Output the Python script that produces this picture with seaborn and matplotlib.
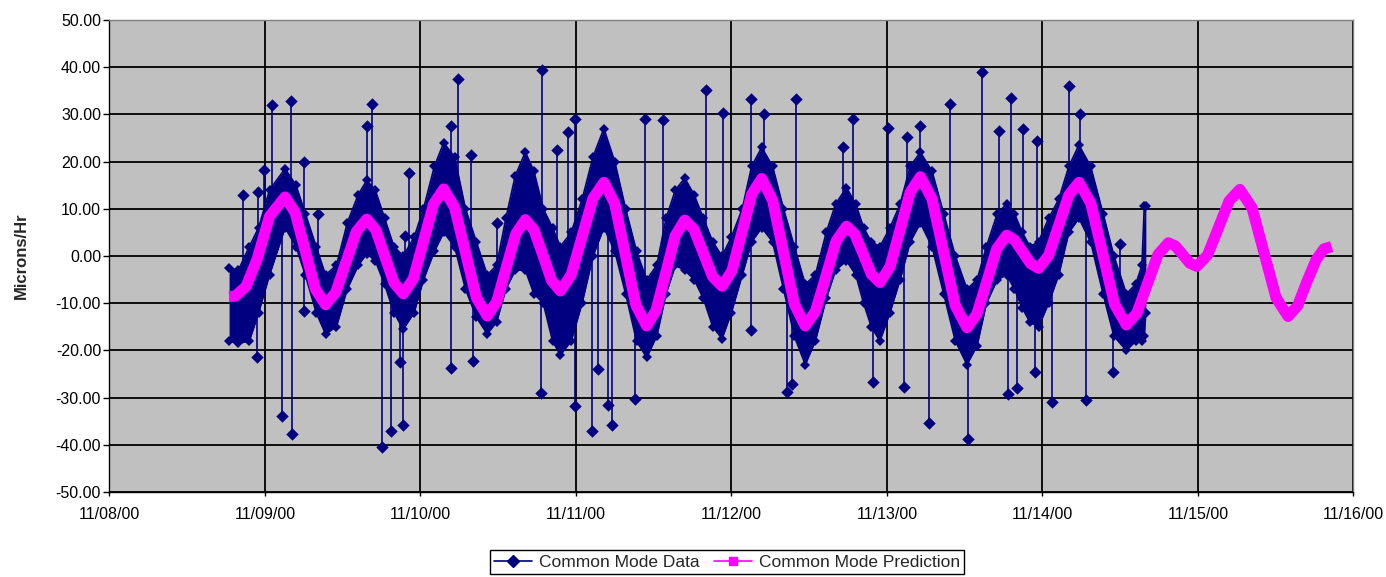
import numpy as np
import pandas as pd
import matplotlib
matplotlib.use("Agg")
import matplotlib.pyplot as plt
import matplotlib.dates as mdates
import matplotlib.ticker as mticker
from matplotlib.lines import Line2D
import seaborn as sns

start = pd.Timestamp("2000-11-08")

# prediction curve (days after 11/08/00, microns/hr)
pred_days = [0.77, 0.81, 0.88, 0.95, 1.03, 1.13, 1.195, 1.26, 1.325, 1.39,
             1.456, 1.522, 1.589, 1.655, 1.714, 1.772, 1.831, 1.89, 1.955, 2.02,
             2.085, 2.15, 2.22, 2.29, 2.36, 2.43, 2.491, 2.552, 2.614, 2.675,
             2.731, 2.788, 2.844, 2.90, 2.97, 3.04, 3.11, 3.18, 3.249, 3.318,
             3.386, 3.455, 3.516, 3.578, 3.639, 3.70, 3.76, 3.82, 3.88, 3.94,
             4.004, 4.068, 4.131, 4.195, 4.265, 4.335, 4.405, 4.475, 4.541, 4.608,
             4.674, 4.74, 4.794, 4.848, 4.901, 4.955, 5.02, 5.085, 5.15, 5.215,
             5.29, 5.365, 5.44, 5.515, 5.579, 5.643, 5.706, 5.77, 5.821, 5.873,
             5.924, 5.975, 6.04, 6.105, 6.17, 6.235, 6.311, 6.388, 6.464, 6.54,
             6.608, 6.675, 6.743, 6.81, 6.856, 6.902, 6.947, 6.993, 7.062, 7.132,
             7.201, 7.27, 7.348, 7.425, 7.503, 7.58, 7.64, 7.70, 7.76, 7.81, 7.86]
pred_vals = [-8.6, -8.5, -6.4, -0.7, 8.4, 12.5, 9.2, 1.1, -7.0, -10.3,
             -7.7, -1.3, 5.2, 7.8, 5.5, -0.1, -5.7, -8.0, -4.8, 3.1,
             11.0, 14.2, 10.3, 0.8, -8.8, -12.7, -9.7, -2.5, 4.7, 7.7,
             5.5, 0.2, -5.2, -7.4, -4.0, 4.1, 12.2, 15.6, 11.2, 0.4,
             -10.4, -14.8, -11.5, -3.6, 4.3, 7.6, 5.6, 0.6, -4.4, -6.4,
             -3.1, 5.0, 13.1, 16.4, 11.8, 0.8, -10.2, -14.8, -11.7, -4.3,
             3.2, 6.3, 4.6, 0.4, -3.9, -5.6, -2.3, 5.6, 13.5, 16.8,
             12.1, 0.8, -10.5, -15.2, -12.3, -5.4, 1.5, 4.4, 3.4, 0.9,
             -1.6, -2.6, 0.1, 6.5, 12.9, 15.6, 11.2, 0.5, -10.2, -14.6,
             -12.1, -5.9, 0.3, 2.8, 2.1, 0.3, -1.5, -2.2, 0.2, 6.0,
             11.7, 14.1, 10.2, 0.7, -8.9, -12.8, -10.6, -5.5, -0.8, 1.5, 2.0]

# dense part of the measured data: upper / lower edge
band_days = [0.77, 0.83, 0.90, 0.96, 1.03, 1.13, 1.20, 1.26, 1.33, 1.39,
             1.46, 1.53, 1.60, 1.655, 1.71, 1.77, 1.83, 1.89, 1.96, 2.02,
             2.09, 2.15, 2.22, 2.29, 2.36, 2.43, 2.49, 2.55, 2.61, 2.675,
             2.73, 2.79, 2.85, 2.90, 2.97, 3.04, 3.11, 3.18, 3.25, 3.32,
             3.39, 3.455, 3.52, 3.58, 3.64, 3.70, 3.76, 3.82, 3.88, 3.94,
             4.00, 4.07, 4.13, 4.195, 4.265, 4.335, 4.405, 4.475, 4.54, 4.61,
             4.67, 4.74, 4.80, 4.85, 4.90, 4.955, 5.02, 5.085, 5.15, 5.215,
             5.29, 5.365, 5.44, 5.515, 5.58, 5.64, 5.71, 5.77, 5.82, 5.87,
             5.92, 5.975, 6.04, 6.105, 6.17, 6.235, 6.31, 6.39, 6.46, 6.54,
             6.60, 6.64, 6.655, 6.665]
band_hi = [-2.5, -3.0, 2.0, 6.0, 14.0, 18.5, 15.0, 9.0, 2.0, -4.0,
           -2.0, 7.0, 13.0, 16.0, 14.0, 8.0, 2.0, 0.0, 4.0, 10.0,
           19.0, 24.0, 21.0, 10.0, 3.0, -4.0, -2.0, 8.0, 17.0, 22.0,
           18.0, 10.0, 6.0, 2.0, 5.0, 12.0, 21.0, 27.0, 20.0, 10.0,
           1.0, -5.0, -2.0, 8.0, 14.0, 16.5, 13.0, 8.0, 3.0, 0.0,
           4.0, 10.0, 19.0, 23.0, 19.0, 10.0, 2.0, -6.0, -4.0, 5.0,
           11.0, 14.5, 11.0, 6.0, 3.0, 2.0, 6.0, 11.0, 19.0, 22.0,
           18.0, 9.0, 0.0, -7.0, -5.0, 2.0, 9.0, 11.0, 9.0, 5.0,
           2.0, 3.0, 8.0, 12.0, 19.0, 23.5, 19.0, 9.0, 0.0, -8.0,
           -6.0, -2.0, 10.5, 10.5]
band_lo = [-18.0, -18.5, -18.0, -12.0, -4.0, 6.0, 2.0, -4.0, -12.0, -16.5,
           -15.0, -7.0, -2.0, 0.5, -1.0, -6.0, -12.0, -15.5, -12.0, -5.0,
           1.0, 5.0, 2.0, -7.0, -13.0, -16.5, -14.0, -7.0, -3.0, -3.0,
           -8.0, -10.0, -18.0, -21.0, -18.0, -10.0, 0.0, 6.0, 1.0, -8.0,
           -18.0, -21.5, -17.0, -8.0, -2.0, -3.0, -5.0, -9.0, -15.0, -17.5,
           -12.0, -4.0, 3.0, 6.0, 3.0, -7.0, -17.0, -23.0, -18.0, -9.0,
           -3.0, -1.0, -4.0, -10.0, -15.0, -18.0, -12.0, -5.0, 3.0, 7.0,
           2.0, -8.0, -18.0, -23.0, -19.0, -10.0, -5.0, -4.0, -7.0, -11.0,
           -14.0, -15.0, -10.0, -4.0, 5.0, 8.0, 3.0, -8.0, -17.0, -20.0,
           -18.0, -18.0, -17.0, -12.0]

# outlying measurements
spike_days = [0.862, 0.958, 0.995, 1.044, 1.168, 1.254, 1.34, 1.655, 1.687, 1.90,
              1.925, 2.20, 2.245, 2.326, 2.49, 2.78, 2.877, 2.948, 2.995, 3.445,
              3.559, 3.837, 3.945, 4.125, 4.21, 4.416, 4.716, 4.785, 5.006, 5.132,
              5.213, 5.406, 5.614, 5.722, 5.799, 5.874, 5.964, 6.172, 6.243, 6.50,
              0.947, 1.109, 1.172, 1.25, 1.752, 1.81, 1.887, 1.87, 2.197, 2.34,
              2.776, 2.995, 3.106, 3.14, 3.205, 3.235, 3.381, 4.125, 4.36, 4.39,
              4.91, 5.113, 5.273, 5.52, 5.777, 5.835, 5.95, 6.06, 6.279, 6.457]
spike_vals = [13.0, 13.6, 18.2, 31.9, 32.8, 19.9, 8.9, 27.6, 32.2, 4.2,
              17.5, 27.5, 37.5, 21.5, 7.0, 39.5, 22.4, 26.2, 29.1, 29.1,
              28.8, 35.1, 30.3, 33.2, 30.0, 33.2, 23.1, 29.1, 27.2, 25.2,
              27.5, 32.2, 38.9, 26.4, 33.5, 26.9, 24.3, 36.0, 30.0, 2.5,
              -21.4, -33.8, -37.8, -11.7, -40.4, -37.0, -35.9, -22.5, -23.7, -22.3,
              -29.1, -31.7, -37.0, -24.0, -31.5, -35.9, -30.3, -15.6, -28.8, -27.2,
              -26.7, -27.8, -35.3, -38.7, -29.3, -27.9, -24.6, -31.0, -30.6, -24.6]


def to_time(days):
    return start + pd.to_timedelta(np.asarray(days), unit="D")


pred = pd.DataFrame({"time": to_time(pred_days), "value": pred_vals})
band = pd.DataFrame({"time": to_time(band_days), "hi": band_hi, "lo": band_lo})
spikes = pd.DataFrame({"time": to_time(spike_days), "value": spike_vals})
# spike lines start from inside the dense band
spikes["base"] = np.interp(spike_days, pred_days, pred_vals)

sns.set_theme(style="ticks", rc={"axes.facecolor": "#c0c0c0",
                                 "figure.facecolor": "white"})
plt.rcParams["font.family"] = ["Liberation Sans", "DejaVu Sans"]
plt.rcParams["axes.unicode_minus"] = False

navy = "#000080"
magenta = "#ff00ff"

fig = plt.figure(figsize=(13.86, 5.77), dpi=100)
ax = fig.add_axes([0.0789, 0.1473, 0.8976, 0.8180])

ax.fill_between(band["time"], band["lo"], band["hi"], color=navy, lw=0, zorder=2)
for col in ["hi", "lo"]:
    sns.lineplot(data=band, x="time", y=col, ax=ax, color=navy, lw=1.2,
                 marker="D", markersize=5, markeredgewidth=0, zorder=2)
ax.vlines(spikes["time"], spikes["base"], spikes["value"], color=navy, lw=1.2, zorder=2)
sns.scatterplot(data=spikes, x="time", y="value", marker="D", s=40, color=navy,
                edgecolor=navy, linewidth=0, ax=ax, zorder=3)
sns.lineplot(data=pred, x="time", y="value", ax=ax, color=magenta, lw=8,
             solid_joinstyle="round", solid_capstyle="butt", zorder=4)

ax.set_xlim(pd.Timestamp("2000-11-08"), pd.Timestamp("2000-11-16"))
ax.set_ylim(-50, 50)
ax.xaxis.set_major_locator(mdates.DayLocator())
ax.xaxis.set_major_formatter(mdates.DateFormatter("%m/%d/%y"))
ax.yaxis.set_major_locator(mticker.MultipleLocator(10))
ax.yaxis.set_major_formatter(mticker.FormatStrFormatter("%.2f"))

ax.grid(True, color="black", lw=1.3)
ax.set_axisbelow(True)
for s in ["top", "right"]:
    ax.spines[s].set_color("#808080")
    ax.spines[s].set_linewidth(1)
for s in ["left", "bottom"]:
    ax.spines[s].set_color("black")
    ax.spines[s].set_linewidth(1)
ax.tick_params(axis="y", length=4.5, width=1, pad=1.5, labelsize=11.5, colors="black")
ax.tick_params(axis="x", length=3, width=1, pad=8, labelsize=11.5, colors="black")

ax.set_xlabel("")
ax.set_ylabel("Microns/Hr", fontsize=12, fontweight="bold")
ax.yaxis.set_label_coords(-0.065, 0.5)

handles = [Line2D([], [], color=navy, lw=1.2, marker="D", markersize=6),
           Line2D([], [], color=magenta, lw=1.2, marker="s", markersize=6)]
leg = fig.legend(handles, ["Common Mode Data", "Common Mode Prediction"],
                 loc="center", bbox_to_anchor=(727 / 1386, 1 - 562 / 577), ncol=2,
                 frameon=True, fancybox=False, edgecolor="black", facecolor="white",
                 framealpha=1, fontsize=12.5, handlelength=2.2, columnspacing=0.8,
                 handletextpad=0.4, borderpad=0.25, borderaxespad=0)
leg.get_frame().set_linewidth(1)

fig.savefig("out.png", dpi=100)
